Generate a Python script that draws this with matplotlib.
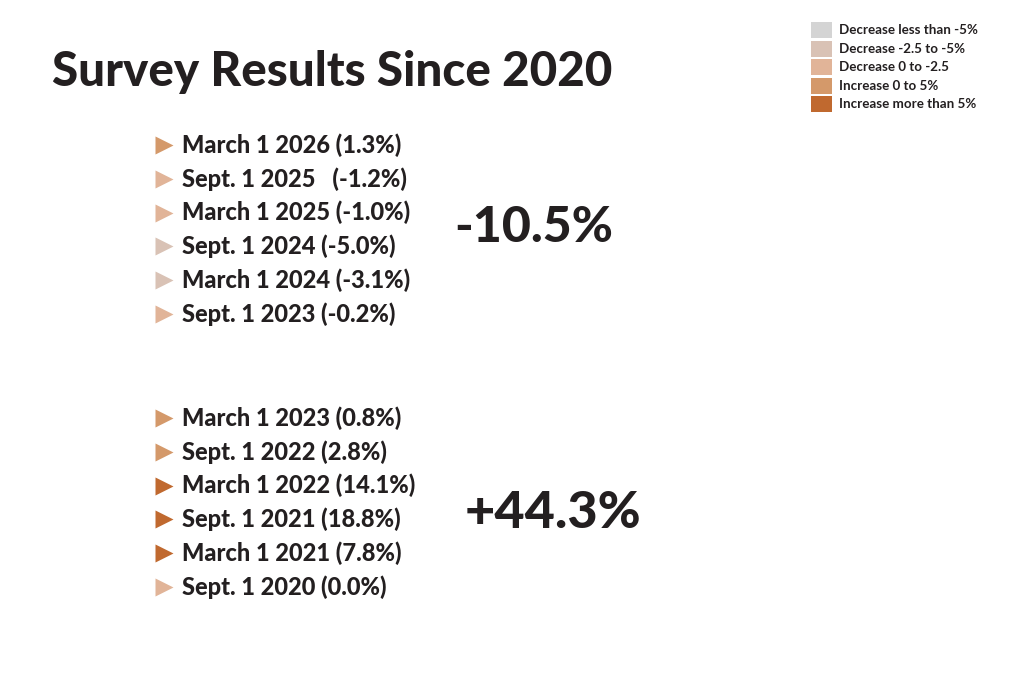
import matplotlib
matplotlib.use('Agg')
from matplotlib import pyplot as plt

plt.rcParams['font.family'] = ['Lato', 'DejaVu Sans']

# data
title = 'Survey Results Since 2020'
recent_labels = ['March 1 2026', 'Sept. 1 2025  ', 'March 1 2025', 'Sept. 1 2024', 'March 1 2024', 'Sept. 1 2023']
recent_values = [1.3, -1.2, -1.0, -5.0, -3.1, -0.2]
recent_total = '-10.5%'
early_labels = ['March 1 2023', 'Sept. 1 2022', 'March 1 2022', 'Sept. 1 2021', 'March 1 2021', 'Sept. 1 2020']
early_values = [0.8, 2.8, 14.1, 18.8, 7.8, 0.0]
early_total = '+44.3%'
legend_labels = ['Decrease less than -5%', 'Decrease -2.5 to -5%', 'Decrease 0 to -2.5',
                 'Increase 0 to 5%', 'Increase more than 5%']
legend_colors = ['#d4d4d4', '#d9c2b5', '#e1b498', '#d4996a', '#c0692f']
ink = '#231f20'


def pick_color(v):
    if v < -5:
        return legend_colors[0]
    if v <= -2.5:
        return legend_colors[1]
    if v <= 0:
        return legend_colors[2]
    if v <= 5:
        return legend_colors[3]
    return legend_colors[4]


fig = plt.figure(figsize=(10.24, 6.92), dpi=100)
ax = fig.add_axes([0, 0, 1, 1])
ax.set_xlim(0, 1024)
ax.set_ylim(692, 0)
ax.axis('off')

ax.text(52, 72, title, fontsize=34.2, fontweight='black', color=ink, va='center', ha='left')

# legend
for i, (lab, col) in enumerate(zip(legend_labels, legend_colors)):
    y = 30 + i * 18.6
    ax.add_patch(plt.Rectangle((811, y - 8), 21, 16, color=col, lw=0))
    ax.text(839, y, lab, fontsize=9.6, fontweight='bold', color=ink, va='center', ha='left')


def draw_group(labels, values, total, y0, tx, ty, tsize):
    for i, (lab, v) in enumerate(zip(labels, values)):
        y = y0 + i * 33.8
        ax.plot(164, y, marker='>', ms=13, color=pick_color(v), mec='none')
        ax.text(182, y, '{0} ({1:.1f}%)'.format(lab, v), fontsize=17, fontweight='black',
                color=ink, va='center', ha='left')
    ax.text(tx, ty, total, fontsize=tsize, fontweight='black', color=ink, va='center', ha='left')


draw_group(recent_labels, recent_values, recent_total, 145, 454, 227, 36)
draw_group(early_labels, early_values, early_total, 418, 465, 513, 37.5)

fig.savefig('out.png', dpi=100, facecolor='white')
